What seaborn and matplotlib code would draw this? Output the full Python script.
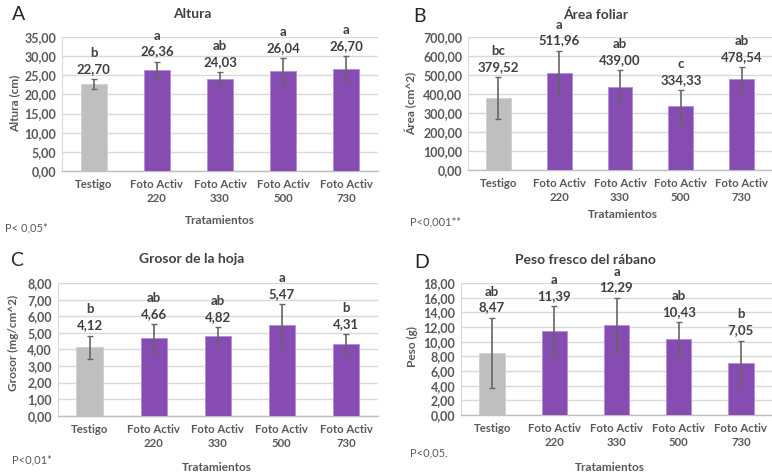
import matplotlib
matplotlib.use("Agg")
import matplotlib.pyplot as plt
import numpy as np
import pandas as pd
import seaborn as sns
from matplotlib.ticker import FuncFormatter, MultipleLocator

sns.set_style("white")
plt.rcParams["font.family"] = ["Lato", "DejaVu Sans"]

# data
treatments = ["Testigo", "Foto Activ\n220", "Foto Activ\n330", "Foto Activ\n500", "Foto Activ\n730"]

altura = [22.70, 26.36, 24.03, 26.04, 26.70]
altura_err = [1.3, 2.2, 1.8, 3.5, 3.3]
altura_letters = ["b", "a", "ab", "a", "a"]

area = [379.52, 511.96, 439.00, 334.33, 478.54]
area_err = [111, 116, 85, 88, 64]
area_letters = ["bc", "a", "ab", "c", "ab"]

grosor = [4.12, 4.66, 4.82, 5.47, 4.31]
grosor_err = [0.71, 0.88, 0.50, 1.24, 0.61]
grosor_letters = ["b", "ab", "ab", "a", "b"]

peso = [8.47, 11.39, 12.29, 10.43, 7.05]
peso_err = [4.8, 3.5, 3.7, 2.2, 3.1]
peso_letters = ["ab", "a", "a", "ab", "b"]

W, H = 772, 473
GRAY = "#BFBFBF"
PURPLE = "#8A3BC2"
TEXT = "#404040"
TICK = "#595959"


def fx(x):
    return x / W


def fy(y):
    return 1 - y / H


fig = plt.figure(figsize=(W / 100, H / 100), dpi=100)

panels = [
    # axes box and text positions are in reference pixels
    dict(letter="A", title="Altura", ylabel="Altura (cm)", vals=altura, err=altura_err,
         let=altura_letters, ymax=35, step=5, p="P< 0,05*",
         box=(62, 37, 378, 171), letpos=(19, 15), tpos=(192, 14), ylpos=(15, 103),
         xlpos=(220, 220), ppos=(5, 228)),
    dict(letter="B", title="Área foliar", ylabel="Área (cm^2)", vals=area, err=area_err,
         let=area_letters, ymax=700, step=100, p="P<0,001**",
         box=(468, 37, 772, 170), letpos=(419, 17), tpos=(596, 15), ylpos=(411, 103),
         xlpos=(623, 214), ppos=(410, 222)),
    dict(letter="C", title="Grosor de la hoja", ylabel="Grosor (mg/cm^2)", vals=grosor,
         err=grosor_err, let=grosor_letters, ymax=8, step=1, p="P<0,01*",
         box=(57.5, 283, 378, 415.7), letpos=(17, 260), tpos=(192, 259), ylpos=(13, 343),
         xlpos=(217, 467), ppos=(12, 460)),
    dict(letter="D", title="Peso fresco del rábano", ylabel="Peso (g)", vals=peso, err=peso_err,
         let=peso_letters, ymax=18, step=2, p="P<0,05.",
         box=(461, 283, 772, 415), letpos=(422, 263), tpos=(585, 260), ylpos=(412, 347),
         xlpos=(610, 467), ppos=(410, 453)),
]

fmt = FuncFormatter(lambda v, _: f"{v:.2f}".replace(".", ","))

for p in panels:
    x0, y0, x1, y1 = p["box"]
    ax = fig.add_axes([fx(x0), fy(y1), (x1 - x0) / W, (y1 - y0) / H])
    df = pd.DataFrame({"trat": treatments, "val": p["vals"], "grupo": ["c", "t", "t", "t", "t"]})
    sns.barplot(data=df, x="trat", y="val", hue="grupo", palette={"c": GRAY, "t": PURPLE},
                width=0.41, dodge=False, legend=False, ax=ax, edgecolor="#B58BDB", linewidth=0.6,
                zorder=3)
    for patch in ax.patches[:1]:
        patch.set_edgecolor("#D0D0D0")
    xs = np.arange(len(treatments))
    ax.errorbar(xs, p["vals"], yerr=p["err"], fmt="none", ecolor="#666666", elinewidth=1.2,
                capsize=2.5, capthick=1.0, zorder=4)

    ax.set_xlim(-0.5, 4.5)
    ax.set_ylim(0, p["ymax"])
    ax.yaxis.set_major_locator(MultipleLocator(p["step"]))
    ax.yaxis.set_major_formatter(fmt)
    ax.grid(axis="y", color="#D9D9D9", linewidth=1.0, zorder=0)
    ax.set_axisbelow(True)
    for side in ["top", "right"]:
        ax.spines[side].set_visible(False)
    ax.spines["left"].set_color("#D9D9D9")
    ax.spines["bottom"].set_color("#BFBFBF")
    ax.spines["bottom"].set_linewidth(1.0)
    ax.tick_params(axis="y", length=0, labelsize=9, labelcolor=TICK, pad=4)
    ax.tick_params(axis="x", length=0, labelsize=8.2, labelcolor=TICK, pad=6)
    for lab in ax.get_xticklabels() + ax.get_yticklabels():
        lab.set_fontweight("bold")
    for lab in ax.get_xticklabels():
        lab.set_linespacing(1.3)
        lab.set_verticalalignment("top")
    ax.set_xlabel("")
    ax.set_ylabel("")

    for xi, v, e, l in zip(xs, p["vals"], p["err"], p["let"]):
        ax.annotate(f"{v:.2f}".replace(".", ","), (xi, v + e), xytext=(0, 3),
                    textcoords="offset points", ha="center", va="bottom", fontsize=9.5,
                    fontweight="bold", color=TEXT, annotation_clip=False)
        ax.annotate(l, (xi, v + e), xytext=(0, 14.5), textcoords="offset points",
                    ha="center", va="bottom", fontsize=9.5, fontweight="bold", color=TEXT,
                    annotation_clip=False)

    fig.text(fx(p["letpos"][0]), fy(p["letpos"][1]), p["letter"], fontsize=14, color="#262626",
             ha="center", va="center")
    fig.text(fx(p["tpos"][0]), fy(p["tpos"][1]), p["title"], fontsize=10, fontweight="bold",
             color=TEXT, ha="center", va="center")
    fig.text(fx(p["ylpos"][0]), fy(p["ylpos"][1]), p["ylabel"], fontsize=8.5, fontweight="bold",
             color=TICK, ha="center", va="center", rotation=90)
    fig.text(fx(p["xlpos"][0]), fy(p["xlpos"][1]), "Tratamientos", fontsize=8.5,
             fontweight="bold", color=TICK, ha="center", va="center")
    fig.text(fx(p["ppos"][0]), fy(p["ppos"][1]), p["p"], fontsize=8, color=TICK,
             ha="left", va="center")

fig.savefig("out.png", dpi=100)
